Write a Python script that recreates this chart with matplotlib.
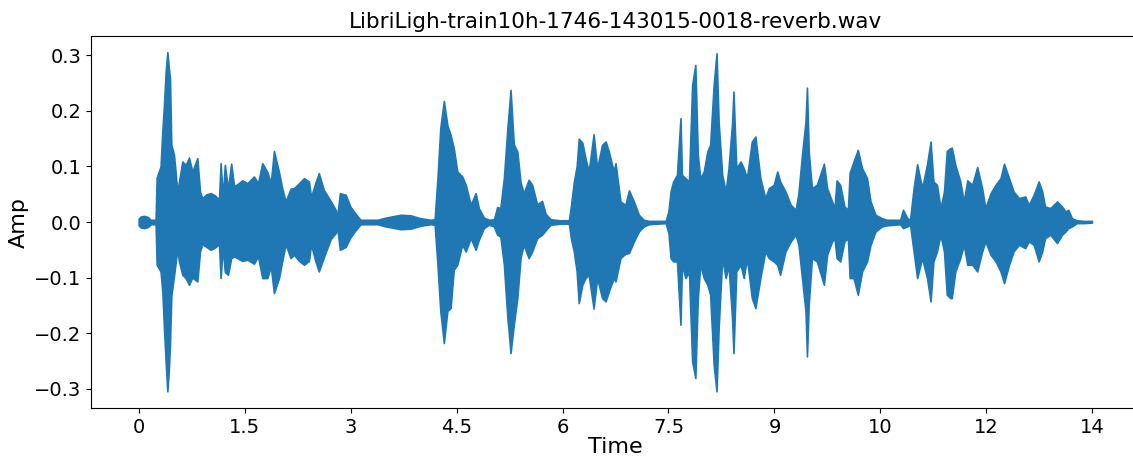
import matplotlib
matplotlib.use("Agg")
import matplotlib.pyplot as plt

# envelope of the waveform (seconds, amplitude)
env_t = [0.00, 0.03, 0.08, 0.13, 0.17, 0.24, 0.255, 0.31, 0.335, 0.358, 0.382, 0.406, 0.425, 0.443, 0.462, 0.50,
         0.547, 0.571, 0.618, 0.665, 0.712, 0.759, 0.83, 0.868, 0.90, 0.96, 1.02, 1.08, 1.137, 1.16, 1.19, 1.22,
         1.264, 1.31, 1.35, 1.396, 1.467, 1.538, 1.632, 1.69, 1.75, 1.821, 1.87, 1.915, 1.986, 2.033, 2.08, 2.15,
         2.198, 2.27, 2.34, 2.41, 2.44, 2.50, 2.55, 2.62, 2.717, 2.788, 2.81, 2.849, 2.93, 3.0, 3.07, 3.14,
         3.38, 3.50, 3.71, 3.85, 3.98, 4.13, 4.19, 4.23, 4.27, 4.32, 4.37, 4.415, 4.46, 4.51, 4.58, 4.63,
         4.70, 4.77, 4.815, 4.886, 4.957, 5.03, 5.075, 5.12, 5.17, 5.22, 5.24, 5.264, 5.31, 5.36, 5.405, 5.45,
         5.52, 5.57, 5.64, 5.71, 5.76, 5.83, 5.97, 6.09, 6.12, 6.16, 6.20, 6.23, 6.28, 6.325, 6.37, 6.44,
         6.49, 6.56, 6.61, 6.655, 6.725, 6.75, 6.82, 6.89, 6.94, 7.01, 7.08, 7.15, 7.22, 7.46, 7.50, 7.53,
         7.566, 7.62, 7.67, 7.69, 7.74, 7.79, 7.835, 7.88, 7.915, 7.95, 8.0, 8.05, 8.09, 8.14, 8.18, 8.21,
         8.26, 8.31, 8.35, 8.40, 8.42, 8.46, 8.52, 8.565, 8.61, 8.68, 8.73, 8.80, 8.87, 8.92, 8.99, 9.04,
         9.08, 9.155, 9.23, 9.30, 9.34, 9.39, 9.44, 9.46, 9.485, 9.53, 9.60, 9.70, 9.745, 9.815, 9.85, 9.88,
         9.93, 9.99, 10.04, 10.065, 10.12, 10.18, 10.24, 10.31, 10.36, 10.43, 10.52, 10.59, 10.78, 10.82, 10.88, 10.92,
         10.97, 11.02, 11.09, 11.16, 11.21, 11.25, 11.30, 11.35, 11.40, 11.44, 11.49, 11.51, 11.56, 11.63, 11.68, 11.73,
         11.80, 11.87, 11.94, 11.985, 12.06, 12.13, 12.20, 12.25, 12.32, 12.385, 12.46, 12.55, 12.60, 12.67, 12.74, 12.79,
         12.83, 12.905, 13.0, 13.07, 13.12, 13.16, 13.21, 13.28, 13.38, 13.495]
env_hi = [0.006, 0.010, 0.011, 0.009, 0.004, 0.004, 0.080, 0.100, 0.163, 0.210, 0.270, 0.306, 0.280, 0.259, 0.139, 0.121,
          0.055, 0.073, 0.109, 0.103, 0.116, 0.091, 0.115, 0.055, 0.043, 0.050, 0.052, 0.048, 0.040, 0.106, 0.045, 0.103,
          0.060, 0.105, 0.065, 0.068, 0.075, 0.070, 0.082, 0.070, 0.106, 0.090, 0.070, 0.128, 0.090, 0.060, 0.037, 0.060,
          0.061, 0.070, 0.079, 0.073, 0.045, 0.070, 0.088, 0.058, 0.038, 0.022, 0.010, 0.052, 0.049, 0.027, 0.015, 0.004,
          0.004, 0.008, 0.013, 0.012, 0.007, 0.004, 0.005, 0.079, 0.169, 0.218, 0.174, 0.157, 0.133, 0.091, 0.082, 0.067,
          0.031, 0.052, 0.025, 0.008, 0.004, 0.005, 0.027, 0.025, 0.079, 0.170, 0.200, 0.238, 0.140, 0.127, 0.072, 0.052,
          0.076, 0.067, 0.032, 0.038, 0.015, 0.005, 0.003, 0.003, 0.030, 0.072, 0.100, 0.150, 0.143, 0.115, 0.091, 0.158,
          0.097, 0.139, 0.145, 0.127, 0.091, 0.106, 0.037, 0.031, 0.057, 0.037, 0.013, 0.004, 0.002, 0.002, 0.020, 0.055,
          0.073, 0.085, 0.187, 0.085, 0.079, 0.073, 0.247, 0.283, 0.121, 0.079, 0.091, 0.127, 0.139, 0.247, 0.304, 0.180,
          0.085, 0.055, 0.097, 0.178, 0.235, 0.097, 0.109, 0.097, 0.079, 0.145, 0.154, 0.079, 0.043, 0.061, 0.067, 0.091,
          0.073, 0.055, 0.031, 0.022, 0.052, 0.121, 0.181, 0.242, 0.127, 0.061, 0.067, 0.105, 0.061, 0.037, 0.025, 0.075,
          0.067, 0.028, 0.022, 0.089, 0.109, 0.130, 0.097, 0.079, 0.037, 0.013, 0.007, 0.004, 0.004, 0.022, 0.007, 0.004,
          0.061, 0.104, 0.061, 0.104, 0.145, 0.073, 0.067, 0.025, 0.055, 0.128, 0.133, 0.134, 0.103, 0.073, 0.037, 0.075,
          0.067, 0.099, 0.061, 0.025, 0.052, 0.067, 0.079, 0.105, 0.079, 0.055, 0.043, 0.046, 0.031, 0.049, 0.073, 0.055,
          0.028, 0.025, 0.037, 0.028, 0.019, 0.022, 0.007, 0.003, 0.002, 0.002]
env_lo = [-0.006, -0.010, -0.011, -0.009, -0.004, -0.004, -0.077, -0.089, -0.125, -0.190, -0.250, -0.305, -0.270, -0.221, -0.133, -0.097,
          -0.049, -0.071, -0.095, -0.101, -0.113, -0.100, -0.107, -0.053, -0.040, -0.045, -0.050, -0.046, -0.040, -0.101, -0.045, -0.090,
          -0.095, -0.065, -0.062, -0.065, -0.070, -0.068, -0.075, -0.062, -0.101, -0.101, -0.080, -0.128, -0.101, -0.070, -0.040, -0.065,
          -0.059, -0.070, -0.077, -0.070, -0.040, -0.070, -0.089, -0.064, -0.031, -0.020, -0.010, -0.050, -0.045, -0.027, -0.015, -0.004,
          -0.004, -0.008, -0.013, -0.012, -0.007, -0.004, -0.005, -0.077, -0.160, -0.218, -0.160, -0.155, -0.086, -0.077, -0.041, -0.053,
          -0.029, -0.050, -0.032, -0.011, -0.005, -0.008, -0.023, -0.026, -0.077, -0.173, -0.200, -0.236, -0.185, -0.137, -0.065, -0.041,
          -0.065, -0.053, -0.029, -0.023, -0.015, -0.005, -0.003, -0.003, -0.030, -0.053, -0.089, -0.146, -0.113, -0.101, -0.095, -0.156,
          -0.101, -0.137, -0.143, -0.125, -0.101, -0.107, -0.065, -0.057, -0.056, -0.035, -0.017, -0.008, -0.004, -0.002, -0.020, -0.065,
          -0.071, -0.071, -0.185, -0.077, -0.101, -0.090, -0.251, -0.281, -0.137, -0.077, -0.101, -0.113, -0.131, -0.257, -0.305, -0.191,
          -0.065, -0.101, -0.077, -0.173, -0.236, -0.089, -0.077, -0.101, -0.065, -0.137, -0.155, -0.101, -0.053, -0.065, -0.071, -0.077,
          -0.095, -0.053, -0.035, -0.023, -0.041, -0.101, -0.161, -0.242, -0.149, -0.065, -0.071, -0.113, -0.059, -0.035, -0.029, -0.065,
          -0.071, -0.035, -0.029, -0.101, -0.101, -0.131, -0.089, -0.071, -0.041, -0.017, -0.008, -0.006, -0.004, -0.011, -0.008, -0.005,
          -0.053, -0.101, -0.065, -0.101, -0.143, -0.071, -0.053, -0.023, -0.053, -0.131, -0.137, -0.137, -0.089, -0.065, -0.041, -0.077,
          -0.077, -0.089, -0.053, -0.035, -0.059, -0.071, -0.089, -0.110, -0.077, -0.053, -0.041, -0.047, -0.035, -0.041, -0.071, -0.053,
          -0.029, -0.023, -0.038, -0.023, -0.017, -0.011, -0.008, -0.002, -0.002, -0.001]

tick_pos = [0, 1.5, 3, 4.5, 6, 7.5, 9, 10.5, 12, 13.5]
tick_labels = ["0", "1.5", "3", "4.5", "6", "7.5", "9", "10", "12", "14"]
title = "LibriLigh-train10h-1746-143015-0018-reverb.wav"

fig = plt.figure(figsize=(11.33, 4.57), dpi=100)
ax = fig.add_axes([0.0803, 0.1072, 0.9259, 0.814])

ax.fill_between(env_t, env_lo, env_hi, color="#1f77b4", linewidth=1.2, edgecolor="#1f77b4")

ax.set_xlim(-0.675, 14.175)
ax.set_ylim(-0.335, 0.335)
ax.set_xticks(tick_pos)
ax.set_xticklabels(tick_labels)
ax.set_yticks([-0.3, -0.2, -0.1, 0.0, 0.1, 0.2, 0.3])
ax.tick_params(labelsize=14)
ax.set_xlabel("Time", fontsize=16, labelpad=0)
ax.set_ylabel("Amp", fontsize=16)
ax.set_title(title, fontsize=15.5)

fig.savefig("out.png", dpi=100)
